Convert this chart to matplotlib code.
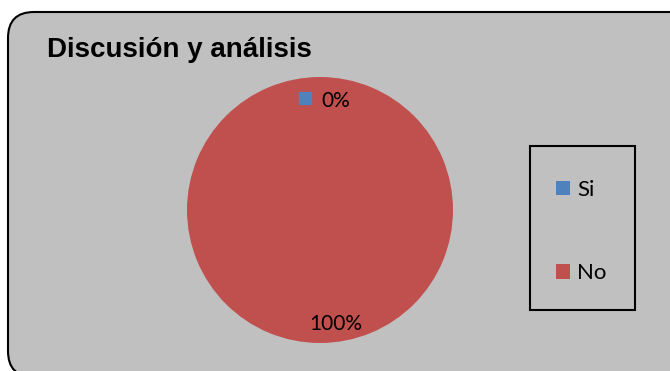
import numpy as np
import matplotlib.pyplot as plt
import matplotlib.patches as mpatches
from matplotlib.transforms import IdentityTransform

# data
categories = ['Si', 'No']
values = [0, 100]
labels = ['0%', '100%']
colors = ['#4F81BD', '#C0504D']
title = 'Discusión y análisis'

W, H = 670, 371
fig = plt.figure(figsize=(W / 100, H / 100), dpi=100)
fig.patch.set_facecolor('white')

# rounded gray chart area (pixel coords, origin bottom left)
bg = mpatches.FancyBboxPatch((8, -6), 690, H - 12 + 6,
                             boxstyle='round,pad=0,rounding_size=26',
                             transform=IdentityTransform(),
                             facecolor='#C0C0C0', edgecolor='black', linewidth=1.5,
                             zorder=-5)
fig.add_artist(bg)

# pie axes: center (320,210), radius 133 px
ax = fig.add_axes([187 / W, (H - 343) / H, 266 / W, 266 / H])
ax.set_zorder(2)
wedges, _ = ax.pie(values, colors=colors, startangle=90, counterclock=False,
                   radius=1.0, wedgeprops=dict(linewidth=0))
ax.set_xlim(-1, 1)
ax.set_ylim(-1, 1)
ax.set_aspect('auto')
ax.axis('off')

# data labels, from wedge angles
for i, w in enumerate(wedges):
    mid = np.deg2rad((w.theta1 + w.theta2) / 2)
    r = 0.84
    x = r * np.cos(mid) + 0.115
    y = r * np.sin(mid) - 0.02
    ax.text(x, y, labels[i], ha='center', va='center', fontsize=15,
            family='Lato', color='black')
    if values[i] == 0:
        ax.plot([x - 0.23], [y + 0.02], marker='s', markersize=8.5,
                color=colors[i], linestyle='none')

fig.text(47 / W, 1 - 57 / H, title, ha='left', va='baseline',
         fontsize=20, fontweight='bold', family='Liberation Sans')

# legend frame
frame = mpatches.Rectangle((530, H - 310), 105, 164, transform=IdentityTransform(),
                           facecolor='none', edgecolor='black', linewidth=1.5)
fig.add_artist(frame)
leg = fig.legend(wedges, categories, loc='center left',
                 bbox_to_anchor=(556 / W, (H - 231.5) / H),
                 frameon=False, borderpad=0, borderaxespad=0,
                 handlelength=0.65, handleheight=0.65, handletextpad=0.3,
                 labelspacing=2.85, prop={'family': 'Lato', 'size': 16})

fig.savefig('out.png', dpi=100)
